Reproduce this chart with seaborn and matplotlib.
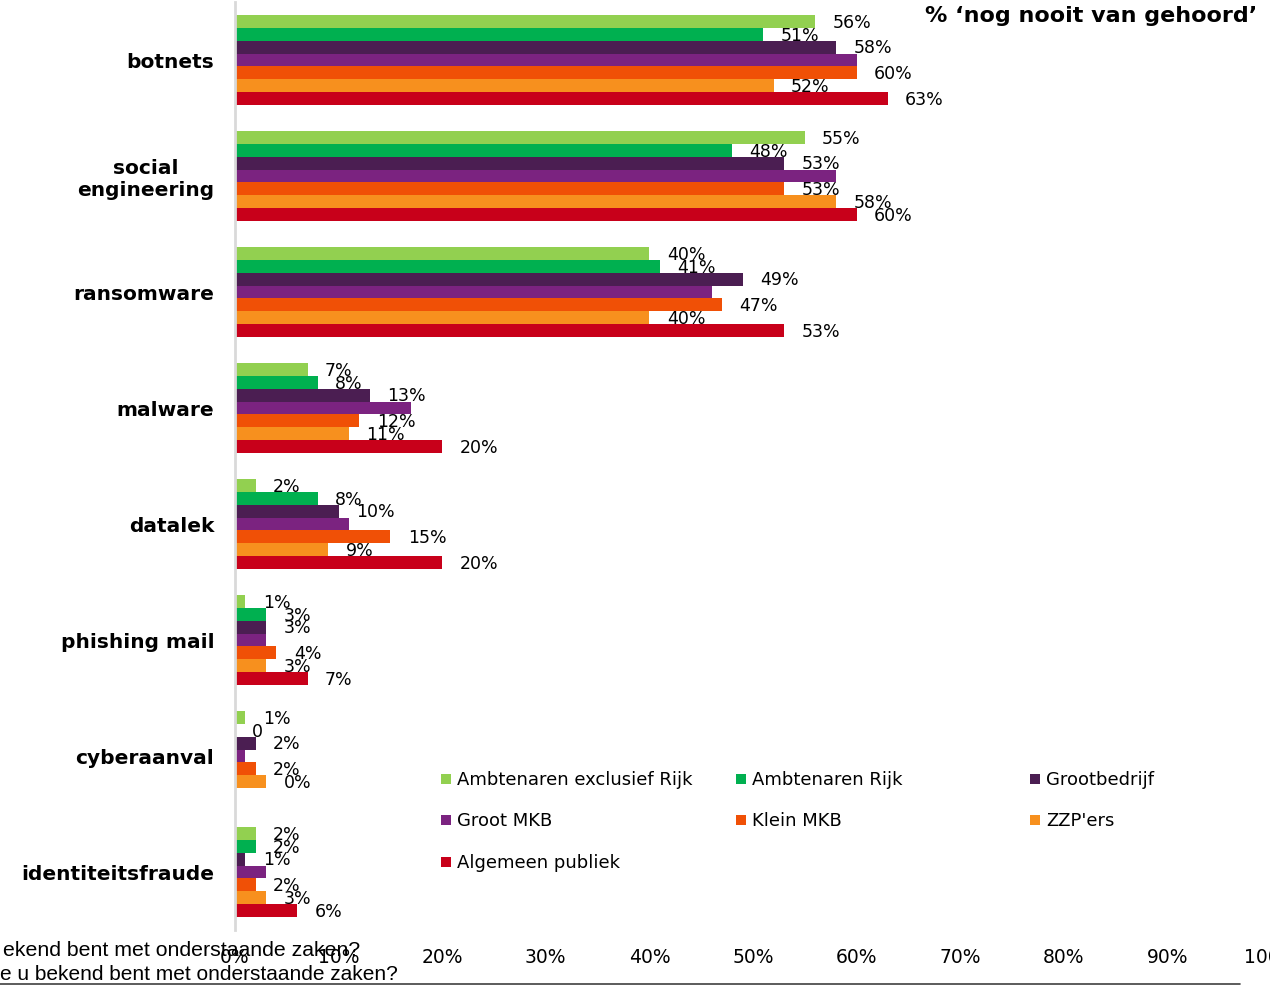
import matplotlib
matplotlib.use("Agg")
import matplotlib.pyplot as plt
from matplotlib.lines import Line2D
import seaborn as sns
import pandas as pd

categories = ["botnets", "social\nengineering", "ransomware", "malware",
              "datalek", "phishing mail", "cyberaanval", "identiteitsfraude"]
groups = ["Ambtenaren exclusief Rijk", "Ambtenaren Rijk", "Grootbedrijf",
          "Groot MKB", "Klein MKB", "ZZP'ers", "Algemeen publiek"]
colors = ["#92D050", "#00B050", "#4B1E52", "#7B2380", "#F05006", "#F7901E", "#C8001A"]

amb_excl = [56, 55, 40, 7, 2, 1, 1, 2]
amb_rijk = [51, 48, 41, 8, 8, 3, 0, 2]
grootbedrijf = [58, 53, 49, 13, 10, 3, 2, 1]
groot_mkb = [60, 58, 46, 17, 11, 3, 1, 3]
klein_mkb = [60, 53, 47, 12, 15, 4, 2, 2]
zzp = [52, 58, 40, 11, 9, 3, 3, 3]
publiek = [63, 60, 53, 20, 20, 7, 0, 6]

# data labels as shown in the source (some are missing / differ from the bar)
lbl_amb_excl = ["56%", "55%", "40%", "7%", "2%", "1%", "1%", "2%"]
lbl_amb_rijk = ["51%", "48%", "41%", "8%", "8%", "3%", "0", "2%"]
lbl_grootbedrijf = ["58%", "53%", "49%", "13%", "10%", "3%", "2%", "1%"]
lbl_groot_mkb = [None] * 8
lbl_klein_mkb = ["60%", "53%", "47%", "12%", "15%", "4%", "2%", "2%"]
lbl_zzp = ["52%", "58%", "40%", "11%", "9%", "3%", "0%", "3%"]
lbl_publiek = ["63%", "60%", "53%", "20%", "20%", "7%", None, "6%"]

values = [amb_excl, amb_rijk, grootbedrijf, groot_mkb, klein_mkb, zzp, publiek]
labels = [lbl_amb_excl, lbl_amb_rijk, lbl_grootbedrijf, lbl_groot_mkb,
          lbl_klein_mkb, lbl_zzp, lbl_publiek]

rows = []
for g, vals in zip(groups, values):
    for c, v in zip(categories, vals):
        rows.append([c, g, v])
df = pd.DataFrame(rows, columns=["categorie", "groep", "pct"])

sns.set_theme(style="white")
plt.rcParams["font.family"] = ["DejaVu Sans"]
plt.rcParams["text.color"] = "black"
plt.rcParams["xtick.color"] = "black"
plt.rcParams["ytick.color"] = "black"

fig = plt.figure(figsize=(12.7, 9.85), dpi=100)
ax = fig.add_axes([235 / 1270, 1 - 930 / 985, 1036 / 1270, 928 / 985])

sns.barplot(data=df, x="pct", y="categorie", hue="groep", order=categories,
            hue_order=groups, palette=colors, orient="h", width=0.78,
            saturation=1, legend=False, ax=ax, linewidth=0)

for cont, lbls in zip(ax.containers, labels):
    for bar, txt in zip(cont, lbls):
        if txt is None:
            continue
        ax.annotate(txt, (bar.get_width(), bar.get_y() + bar.get_height() / 2),
                    xytext=(12.5, -1), textcoords="offset points",
                    ha="left", va="center", fontsize=12.5, color="black")

ax.set_xlim(0, 100)
ax.set_ylim(7.5, -0.5)
ax.set_xticks(range(0, 101, 10))
ax.set_xticklabels([f"{t}%" for t in range(0, 101, 10)], fontsize=13.5)
ax.tick_params(axis="x", length=0, pad=13)
ax.tick_params(axis="y", length=0, pad=15)
for t in ax.get_yticklabels():
    t.set_fontsize(14.5)
    t.set_fontweight("bold")
    t.set_multialignment("center")
ax.set_xlabel("")
ax.set_ylabel("")
for s in ["top", "right", "bottom"]:
    ax.spines[s].set_visible(False)
ax.spines["left"].set_color("#D9D9D9")
ax.spines["left"].set_linewidth(2)

fig.text(1257 / 1270, 1 - 16 / 985, "% \u2018nog nooit van gehoord\u2019",
         ha="right", va="center", fontsize=16, fontweight="bold")

# legend: three columns filled row by row
col_x = [441 / 1270, 736 / 1270, 1030 / 1270]
for j in range(3):
    idx = list(range(j, len(groups), 3))
    handles = [Line2D([], [], marker="s", linestyle="none", markersize=7.5,
                      markerfacecolor=colors[i], markeredgewidth=0) for i in idx]
    fig.legend(handles, [groups[i] for i in idx], loc="upper left",
               bbox_to_anchor=(col_x[j], 1 - 771 / 985), frameon=False,
               fontsize=13, handlelength=0.6, handletextpad=0.3,
               labelspacing=1.3, borderaxespad=0, borderpad=0)

fig.text(360 / 1270, 1 - 950 / 985, "ekend bent met onderstaande zaken?",
         ha="right", va="center", fontsize=15.3, family=["Liberation Sans"])
fig.text(398 / 1270, 1 - 975 / 985, "e u bekend bent met onderstaande zaken?",
         ha="right", va="center", fontsize=15, family=["Liberation Sans"])
fig.add_artist(Line2D([0, 1240 / 1270], [1 - 984 / 985, 1 - 984 / 985],
                      color="#404040", linewidth=1.2))

fig.savefig("out.png", dpi=100)
